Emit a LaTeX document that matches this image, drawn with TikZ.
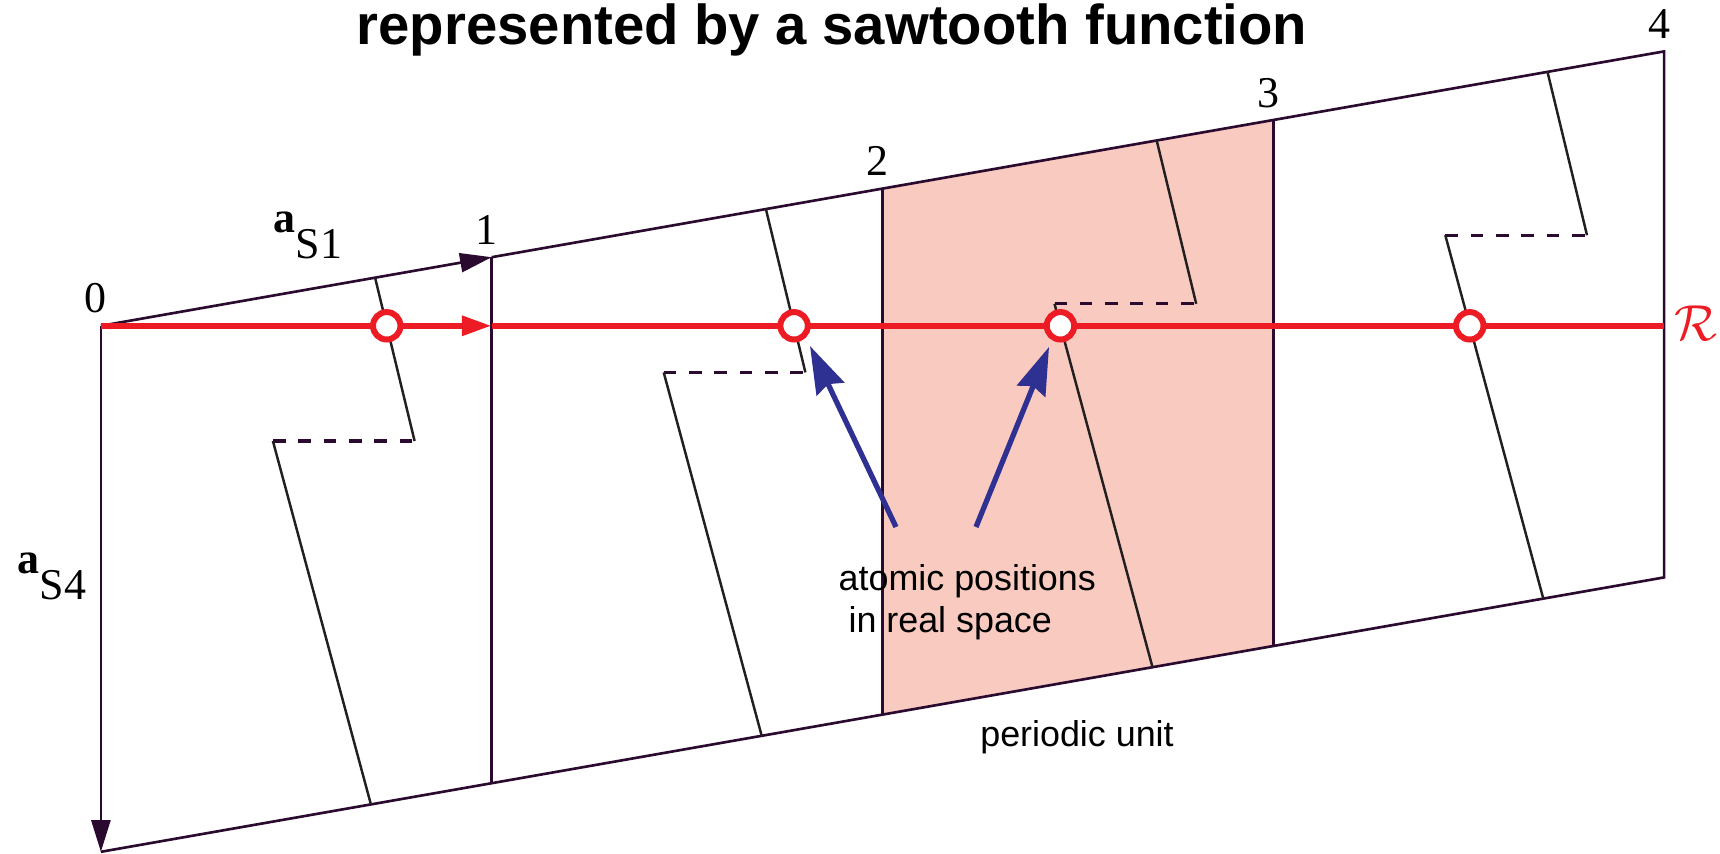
\documentclass[tikz,border=0pt]{standalone}
\usepackage{fontspec}
\setmainfont{Liberation Serif}
\setsansfont{Liberation Sans}
\usetikzlibrary{calc,arrows.meta}
\definecolor{framec}{HTML}{2A0A2E}
\definecolor{sawc}{HTML}{231F20}
\definecolor{rred}{HTML}{ED1C24}
\definecolor{pinkfill}{HTML}{F8CAC0}
\definecolor{bblue}{HTML}{2E3192}
\begin{document}
\begin{tikzpicture}[x=0.01cm,y=-0.01cm,
  frameline/.style={draw=framec,line width=0.75pt},
  vecarrow/.style={frameline,-{Triangle[length=9pt,width=5.4pt]}},
  sawline/.style={draw=sawc,line width=0.7pt},
  dashline/.style={draw=framec,line width=0.9pt,dash pattern=on 3.6pt off 3.6pt},
  redline/.style={draw=rred,line width=1.75pt},
  atom/.style={circle,draw=rred,line width=1.7pt,fill=white,minimum size=7.8pt,inner sep=0pt},
  bluearrow/.style={draw=bblue,line width=1.5pt,-{Stealth[length=13.5pt,width=8.6pt,inset=1.5pt]}},
  numlab/.style={anchor=base,inner sep=0pt,font=\fontsize{12.5}{14}\selectfont},
  veclab/.style={anchor=base west,inner sep=0pt,font=\fontsize{12.5}{15}\selectfont},
  txt/.style={inner sep=0pt,font=\sffamily\fontsize{10.2}{11.9}\selectfont}]
\useasboundingbox (0,0) rectangle (1720,854);

% lattice points
\coordinate (O) at (100.9,325.8);
\foreach \k in {0,...,4} {
  \coordinate (P\k) at ($(O)+\k*(390.8,-68.6)$);
  \coordinate (B\k) at ($(P\k)+(0,526)$);
}
\foreach \k in {0,...,3} {
  \coordinate (T\k) at ($(P\k)+(274.2,-48.1)$);
  \coordinate (U\k) at ($(P\k)+(313.7,115.2)$);
  \coordinate (D\k) at ($(P\k)+(172,115.2)$);
  \coordinate (L\k) at ($(P\k)+(270,478.6)$);
}
\coordinate (R1) at (P1 |- O);
\coordinate (Rend) at (P4 |- O);

% periodic unit
\fill[pinkfill] (P2) -- (P3) -- (B3) -- (B2) -- cycle;

% frame
\draw[frameline] (P1) -- (P4) -- (B4) -- (B0);
\foreach \k in {1,2,3} \draw[frameline] (P\k) -- (B\k);
\draw[vecarrow] (P0) -- (P1);
\draw[vecarrow] (P0) -- (B0);

% sawtooth
\foreach \k in {0,...,3} {
  \draw[sawline] (T\k) -- (U\k);
  \draw[dashline] (D\k) -- (U\k);
  \draw[sawline] (D\k) -- (L\k);
}

% real space line
\draw[redline,-{Triangle[length=8.5pt,width=5.4pt]}] (O) -- (R1);
\draw[redline] (R1) -- (Rend);
\node[atom] (c0) at (intersection of T0--U0 and O--Rend) {};
\node[atom] (c1) at (intersection of T1--U1 and O--Rend) {};
\node[atom] (c2) at (intersection of D2--L2 and O--Rend) {};
\node[atom] (c3) at (intersection of D3--L3 and O--Rend) {};

% blue arrows
\coordinate (s1) at (896,527);
\coordinate (e1) at (810,346);
\coordinate (s2) at (976,527);
\coordinate (e2) at (1049,347);
\draw[bluearrow] (s1) -- (e1);
\draw[bluearrow] (s2) -- (e2);

% labels
\node[anchor=base,inner sep=0pt,font=\sffamily\bfseries\fontsize{16}{19}\selectfont] (title) at (832,44) {represented by a sawtooth function};
\foreach \k in {0,...,4} \node[numlab] (n\k) at ($(P\k)+(-5,-13)$) {\k};
\node[veclab] (aS1) at (273,232.7) {\textbf{a}\raisebox{-7.2pt}{S1}};
\node[veclab] (aS4) at (17,573) {\textbf{a}\raisebox{-7.5pt}{S4}};
\node[inner sep=0pt,text=rred,font=\fontsize{15.5}{18}\selectfont] (Rlab) at (1696,323.3) {$\mathcal{R}$};
\node[txt,anchor=base west,align=left] (atpos) at (838,632.7) {atomic positions\\\hspace*{2.8pt}in real space};
\node[txt,anchor=base west] (punit) at (979.6,746) {periodic unit};
\end{tikzpicture}
\end{document}
